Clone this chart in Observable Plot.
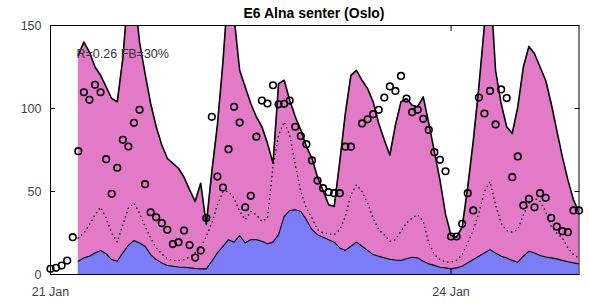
<!DOCTYPE html>
<html>
<head>
<meta charset="utf-8">
<script src="https://cdn.jsdelivr.net/npm/d3@7"></script>
<script src="https://cdn.jsdelivr.net/npm/@observablehq/plot@0.6"></script>
<style>
  body { margin: 0; background: #fff; font-family: "Liberation Sans", Arial, sans-serif; }
  #title { position: relative; height: 20px; }
  #title span { position: absolute; left: 50px; width: 528px; top: 5px; text-align: center;
    line-height: 16px; font-weight: bold; font-size: 14px; color: #000; }
  #chart svg { display: block; }
</style>
</head>
<body>
<div id="title"><span>E6 Alna senter (Oslo)</span></div>
<div id="chart"></div>
<script>
// ---- data (hourly, hour 0 = 21 Jan 00:00) ----
const titleText = "E6 Alna senter (Oslo)";
const annotation = "R=0.26 FB=30%";
const yTicks = [0, 50, 100, 150];
const xTickHours = [0, 72];
const xTickLabels = ["21 Jan", "24 Jan"];

// observations, hours 0..95
const observed = [
  3.4, 4, 5.4, 8.4, 22.5, 74.3, 109.8, 105.2, 114.3, 109.8,
  69.5, 48.6, 64.3, 81.1, 77.1, 91.4, 99.2, 54.4, 37.5, 34.5,
  31, 26.9, 18.3, 19.5, 26.5, 17.7, 10.2, 14.5, 34, 95,
  59, 52.4, 75.5, 101, 91.5, 40.5, 47.4, 83, 104.8, 103,
  114, 102.5, 102.8, 104.8, 89, 83.4, 78.5, 68.7, 56.6, 52,
  49.6, 49, 49, 77, 77, null, 91, 93.5, 96.6, 99.2,
  106.6, 113.3, 110.6, 119.6, 106, 97.8, 99.2, 93.8, 87.1, 73.7,
  69.1, 62.2, 22.9, 22.9, 30.5, 49, 38.6, 106.6, 97, 110.6,
  90.4, 111.5, 106.3, 58.6, 71.1, 41.6, 45.6, 40.5, 49, 46.2,
  34.1, 28.9, 26.1, 25.5, 38.6, 38.6
];

// model series start at hour 5
const modelStart = 5;
const modelTotal = [
  132, 140, 134, 125, 120, 113, 106, 104, 130, 172,
  172, 140, 121, 103, 89, 78, 70, 67, 64, 58.6,
  51, 44, 55, 30, 62, 90, 128, 175, 155, 123,
  113, 103, 95, 89, 79, 67, 115, 117, 105, 95,
  87, 77, 70, 58.6, 50.6, 42, 41, 68, 97, 120,
  123, 117, 112, 104, 91, 81, 72, 90, 104, 106,
  102, 101, 107, 91, 74, 57, 36.5, 23.5, 22.5, 28.5,
  52.6, 80.7, 113, 150, 178, 123, 103, 89, 85, 101,
  125, 137.4, 133, 125, 117, 103, 87, 71, 57, 45,
  37.5
];
const modelBackground = [
  8, 10, 11, 13, 14.5, 12.5, 9, 8, 13, 17.5,
  20.5, 19, 17, 12, 9, 7, 5.4, 5, 4.5, 4.4,
  4, 3.6, 3.4, 3.4, 8, 13, 17, 21, 19.5, 23.5,
  19, 21, 21, 20, 18.5, 19.5, 24, 35, 38.5, 39,
  38, 33, 27, 24, 22.5, 21, 19.5, 16, 14.5, 17,
  19.5, 17, 14.5, 12, 11, 10, 9.2, 8.7, 8.4, 9.5,
  10.4, 10, 8, 6.4, 5.5, 4.4, 4, 3.4, 4, 5,
  7, 9, 11, 13, 15, 13, 11, 10, 8.5, 7.4,
  11, 14, 13, 11.4, 10.5, 10, 9.4, 8.5, 7.7, 7,
  6.4
];
const modelDotted = [
  22, 25, 30, 36, 40.5, 34, 25, 19.5, 30, 40,
  43, 37, 29, 22, 16, 12.5, 9.5, 8.4, 8.4, 9,
  10.5, 13, 16, 23, 31, 42, 50, 50, 46, 38,
  33, 38, 36, 32, 34, 65, 84, 92, 84, 66,
  50, 40, 34, 27, 25, 24.5, 24, 27, 35, 48,
  54, 50, 43, 34, 27, 24, 20, 21, 26, 31,
  34, 36, 32, 19, 12, 9, 7.5, 7.5, 8.5, 12,
  19, 27, 37, 50, 56, 42, 31, 26.5, 25.5, 27,
  36, 43, 46, 44, 38, 29, 25, 22, 16, 12,
  10
];

// ---- tables built from the arrays ----
const obsRows = observed.map((v, i) => ({hour: i, obs: v}));
const modelRows = modelTotal.map((v, i) => ({
  hour: modelStart + i,
  total: v,
  bg: modelBackground[i],
  dotted: modelDotted[i]
}));

const pink = "#e27ac8";
const blue = "#7b7cf6";

const chart = Plot.plot({
  width: 589,
  height: 284,
  marginLeft: 50,
  marginRight: 10.5,
  marginTop: 5,
  marginBottom: 30,
  style: {fontFamily: "Liberation Sans, Arial, sans-serif", fontSize: "12.5px", background: "#fff"},
  x: {type: "linear", domain: [0, 95]},
  y: {domain: [0, 150]},
  marks: [
    Plot.areaY(modelRows, {x: "hour", y: "total", fill: pink, clip: true}),
    Plot.areaY(modelRows, {x: "hour", y: "bg", fill: blue, clip: true}),
    Plot.lineY(modelRows, {x: "hour", y: "total", stroke: "#000", strokeWidth: 1.6, clip: true}),
    Plot.lineY(modelRows, {x: "hour", y: "bg", stroke: "#000", strokeWidth: 1.1, clip: true}),
    Plot.lineY(modelRows, {x: "hour", y: "dotted", stroke: "#000", strokeWidth: 1.5, strokeLinecap: "round", strokeDasharray: "0.1,4.4", clip: true}),
    Plot.text([annotation], {frameAnchor: "top-left", dx: 26, dy: 28, textAnchor: "start", lineAnchor: "middle", fill: "#333", fontSize: 12.5}),
    Plot.dot(obsRows, {x: "hour", y: "obs", r: 3.3, stroke: "#000", strokeWidth: 1.6, fill: "none"}),
    Plot.frame({stroke: "#000", strokeWidth: 1}),
    Plot.axisY({anchor: "left", ticks: yTicks, tickSize: -5, tickPadding: 14, stroke: "#000", fill: "#444", label: null}),
    Plot.axisY({anchor: "right", ticks: yTicks, tickSize: -5, stroke: "#000", fill: "none", label: null}),
    Plot.axisX({anchor: "bottom", ticks: xTickHours, tickSize: -5, tickPadding: 18, stroke: "#000", fill: "#444",
      tickFormat: (d) => xTickLabels[xTickHours.indexOf(d)], label: null}),
    Plot.axisX({anchor: "top", ticks: xTickHours, tickSize: -5, stroke: "#000", fill: "none", label: null})
  ]
});
document.getElementById("chart").appendChild(chart);
</script>
</body>
</html>
